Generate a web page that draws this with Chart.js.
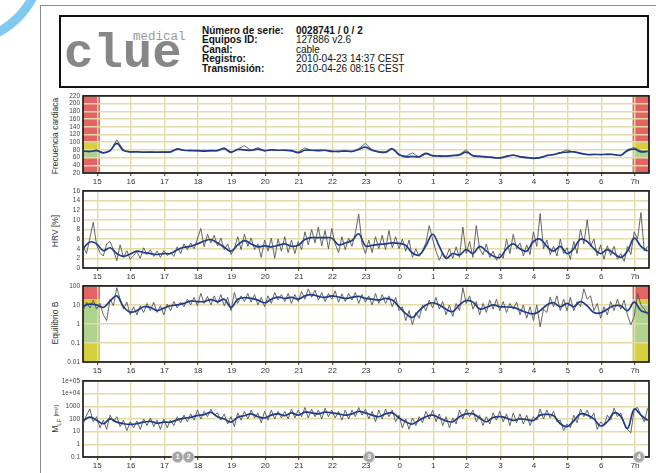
<!DOCTYPE html>
<html><head><meta charset="utf-8">
<script src="https://cdn.jsdelivr.net/npm/chart.js@4.4.0/dist/chart.umd.min.js"></script>
<style>
html,body{margin:0;padding:0;background:#fff;width:656px;height:473px;overflow:hidden;font-family:"Liberation Sans",Arial,sans-serif;}
.abs{position:absolute;}
canvas{position:absolute;left:0;}
.yt{position:absolute;width:0;height:0;}
.yt > span{position:absolute;left:0;top:0;transform:translate(-50%,-50%) rotate(-90deg);white-space:nowrap;font-size:8.5px;color:#333;}
</style></head>
<body>
<div class="abs" style="left:-131px;top:-131px;width:178px;height:178px;border-radius:50%;border:9px solid #7fcbef;box-sizing:border-box;"></div>
<div class="abs" style="left:40px;top:5px;width:630px;height:480px;border-left:1.5px solid #8a8a8a;border-top:1.5px solid #8a8a8a;"></div>
<div class="abs" style="left:59px;top:15px;width:590px;height:73px;border:2.5px solid #111;box-sizing:border-box;"></div>
<div class="abs" style="left:64px;top:29.5px;font-family:'Liberation Mono',monospace;font-weight:bold;font-size:49px;line-height:49px;color:#878787;">clue</div>
<div class="abs" style="left:133px;top:30.5px;font-family:'Liberation Mono',monospace;font-size:12.5px;line-height:12.5px;color:#9a9a9a;">medical</div>
<div class="abs" style="left:202px;top:25.5px;font-size:10px;line-height:9.6px;font-weight:bold;color:#111;">Número de serie:<br>Equipos ID:<br>Canal:<br>Registro:<br>Transmisión:</div>
<div class="abs" style="left:296px;top:25.5px;font-size:10px;line-height:9.6px;color:#111;"><b>0028741 / 0 / 2</b><br>127886 v2.6<br>cable<br>2010-04-23 14:37 CEST<br>2010-04-26 08:15 CEST</div>

<div class="yt" style="left:55px;top:136px;"><span>Frecuencia cardiaca</span></div>
<div class="yt" style="left:55px;top:231px;"><span>HRV [%]</span></div>
<div class="yt" style="left:55px;top:323px;"><span>Equilibrio B</span></div>
<div class="yt" style="left:56px;top:419px;"><span>M<sub style="font-size:6px;">LF</sub> <span style="font-size:5px;">[ms²]</span></span></div>

<canvas id="c1" width="656" height="102" style="top:89px"></canvas>
<canvas id="c2" width="656" height="102" style="top:184px"></canvas>
<canvas id="c3" width="656" height="101" style="top:279px"></canvas>
<canvas id="c4" width="656" height="101" style="top:374px"></canvas>

<script>
// ---------- data ----------
const START = 14.58;          // first sample (hours, continuous from day 1)
const GRAY_STEP = 0.1;        // raw series sampling (h)
const BLUE_STEP = 0.2;        // smoothed series sampling (h)
const X_MIN = 14.575, X_MAX = 31.42;
const HOUR_TICKS = [15,16,17,18,19,20,21,22,23,24,25,26,27,28,29,30,31];
const HOUR_LABELS = ['15','16','17','18','19','20','21','22','23','0','1','2','3','4','5','6','7h'];
const ZONES = [[14.575,15.08],[30.93,31.42]];

// Frecuencia cardiaca
const HR_TICKS = [20,40,60,80,100,120,140,160,180,200,220];
const HR_LABELS = ['20','40','60','80','100','120','140','160','180','200','220'];
const HR_BAND_LIMITS = [20,60,80,100,220];
const HR_BAND_KINDS = ['red','green','yellow','red'];
const HR_RAW = [77,75,80,73,76,106,80,74,76,73,
75,73,75,74,84,78,79,77,79,77,
79,86,72,82,91,78,86,77,81,78,
80,77,74,85,78,80,78,77,75,78,
75,83,97,80,74,75,82,66,64,72,
61,70,64,65,63,66,68,80,64,64,
61,61,58,64,67,63,61,59,59,66,
67,73,80,74,72,67,69,67,70,67,
65,81,86,77,76];
const HR_SMOOTH = [77,76,78,72,78,97,78,75,75,74,
74,74,74,75,82,79,78,78,77,78,
78,83,74,81,80,79,82,78,80,79,
79,78,73,79,79,78,79,76,76,77,
76,81,87,79,75,74,83,68,62,63,
62,71,65,64,64,65,67,74,65,63,
62,60,59,63,66,62,60,58,60,65,
68,72,74,75,71,68,68,68,68,68,
66,78,82,75,76];

// HRV [%]
const HRV_TICKS = [0,2,4,6,8,10,12,14,16];
const HRV_LABELS = ['0','2','4','6','8','10','12','14','16'];
const HRV_RAW = [4.5,3.0,6.2,9.5,4.8,3.2,2.5,5.0,5.5,3.8,
1.5,4.8,2.2,3.6,1.8,2.6,3.4,2.0,4.2,2.8,
3.8,2.4,3.5,2.2,3.6,2.6,3.2,2.4,4.4,3.0,
5.0,3.8,5.2,4.0,6.0,8.2,4.4,7.0,5.2,6.8,
4.6,6.2,3.8,5.0,2.8,4.0,6.5,3.8,7.0,4.5,
6.2,3.8,5.0,2.2,5.8,3.5,6.2,2.0,6.0,3.5,
6.5,3.2,5.8,3.0,5.5,3.8,7.5,4.8,8.0,5.2,
8.5,4.6,7.8,4.0,8.2,5.0,3.2,6.5,3.8,6.2,
4.5,7.2,11.2,5.0,3.0,5.8,3.2,6.5,4.0,6.8,
3.8,7.8,4.2,6.5,4.0,6.0,3.5,5.8,2.2,4.0,
2.4,3.6,5.2,8.8,6.0,3.5,1.6,3.2,2.2,4.0,
2.0,4.4,2.2,8.5,3.0,5.5,2.2,8.8,4.0,2.8,
5.0,2.2,3.5,1.6,3.0,2.0,6.0,3.0,7.0,4.0,
5.2,2.5,4.8,2.8,7.5,4.5,11.3,4.0,5.8,2.8,
4.5,2.5,6.0,3.0,4.2,1.8,5.5,3.0,8.0,5.0,
10.0,4.5,6.0,2.5,4.8,1.8,4.6,2.6,4.5,1.8,
3.0,1.4,4.5,2.8,7.5,6.0,11.5,3.5,4.5];
const HRV_SMOOTH = [4.0,5.4,5.0,3.6,4.2,3.0,2.4,2.9,3.5,3.2,
3.0,2.8,3.0,3.0,3.8,4.3,4.5,5.0,5.6,5.9,
5.2,4.3,3.5,4.8,5.7,5.0,4.4,4.6,4.4,4.7,
5.0,4.5,4.7,5.9,6.3,6.3,6.3,6.2,4.8,5.2,
5.7,7.1,4.6,4.7,4.9,5.0,5.2,5.1,4.7,3.1,
2.7,4.6,7.0,4.5,2.0,3.0,2.7,3.8,3.0,4.5,
3.5,2.5,2.2,4.0,5.0,4.0,3.5,5.5,6.0,4.5,
3.5,4.5,3.0,4.0,6.0,5.5,4.0,3.0,3.8,3.0,
2.2,3.5,6.2,4.5,3.5];

// Equilibrio B
const EB_TICKS = [0.01,0.1,1,10,100];
const EB_LABELS = ['0.01','0.1','1','10','100'];
const EB_BAND_LIMITS = [0.01,0.1,10,20,100];
const EB_BAND_KINDS = ['yellow','green','yellow','red'];
const EB_RAW = [5,14,7,18,6,12,3,1.5,20,9,
80,20,6,14,3,8,3,9,4,12,
5,14,4,9,3,11,5,15,7,14,
8,20,10,25,9,40,12,28,10,30,
12,35,9,25,5,45,12,30,15,40,
14,35,10,25,8,30,12,45,18,35,
15,40,12,35,15,50,20,70,25,60,
18,45,15,40,20,55,14,38,15,40,
18,45,12,35,14,30,10,40,12,35,
12,30,8,25,5,8,1.5,5,0.9,4,
2,10,5,18,7,25,6,15,3,10,
2.5,12,5,80,12,30,6,15,3,12,
4,18,6,20,5,15,4,12,6,14,
3,10,2,8,1.5,10,0.7,6,4,25,
8,30,5,20,5,25,5,15,8,70,
20,30,5,12,2,8,3,15,5,20,
6,18,3,0.9,2.5,40,10,6,3];
const EB_SMOOTH = [9,11,10,7.4,16,30,8,4.2,5,8,
7.4,5,6.8,9,10,12,16,15,15,19,
15,20,7.4,20,24,22,18,13,20,26,
22,25,20,30,35,28,25,30,26,22,
25,28,22,20,18,22,18,8,3.5,2.2,
5,10,13,10,6,4.5,10,17,14,6.2,
7.4,10,8,7.8,7.4,5.5,4,3.4,5,10,
13,8,12,8,15,9,4,3.8,6,9,
9,5,14,5,3.8];

// M_LF
const MLF_TICKS = [0.1,1,10,100,1000,1e4,1e5];
const MLF_LABELS = ['0.1','1','10','100','1000','1e+04','1e+05'];
const MLF_RAW = [40,200,620,60,150,20,80,15,200,60,
150,25,80,12,60,20,70,15,100,30,
120,25,80,15,100,20,80,30,150,50,
200,60,250,80,500,100,400,150,600,200,
300,80,250,40,150,25,300,80,400,100,
500,120,300,50,400,80,500,100,400,120,
400,100,600,120,500,150,800,120,600,150,
500,100,700,150,500,120,400,80,500,100,
500,150,800,200,600,100,400,60,500,100,
600,150,500,60,200,20,100,15,120,30,
150,50,400,100,500,60,250,30,150,20,
120,40,500,100,600,150,500,60,200,30,
150,40,300,80,400,60,250,30,300,50,
250,40,200,30,150,80,600,100,500,120,
400,60,80,12,40,20,200,50,600,150,
500,100,300,15,60,30,200,80,700,150,
300,40,15,8,600,800,200,60,700];
const MLF_SMOOTH = [76,138,80,42,100,56,42,37,42,56,
65,46,56,56,85,115,135,185,220,330,
150,100,56,138,180,250,150,120,200,250,
180,300,200,350,300,250,350,300,250,200,
250,400,300,200,150,250,300,120,60,40,
80,150,200,120,70,60,150,250,250,120,
60,130,150,120,76,100,90,76,200,230,
180,42,25,70,250,200,100,28,60,300,
160,18,600,200,76];
const MARKER_TIMES = [17.39,17.72,23.09,31.12];
const MARKER_LABELS = ['1','2','3','4'];

// ---------- drawing ----------
const FONT = "'Liberation Sans', Arial, sans-serif";
Chart.defaults.font.family = FONT;
const COL = {red:'#e46464', yellow:'#d6cf3e', green:'#afd38e'};
const GRID = '#e3dcaa';

function series(vals, step){ return vals.map((v,i)=>({x: +(START + i*step).toFixed(3), y: v})); }

function bandsPlugin(limits, kinds){
  return {id:'bands', beforeDraw(chart){
    if(!limits) return;
    const ctx = chart.ctx, a = chart.chartArea, xs = chart.scales.x, ys = chart.scales.y;
    ctx.save();
    for(const z of ZONES){
      const x0 = Math.max(a.left, xs.getPixelForValue(z[0]));
      const x1 = Math.min(a.right, xs.getPixelForValue(z[1]));
      for(let k=0;k<kinds.length;k++){
        const yT = ys.getPixelForValue(limits[k+1]), yB = ys.getPixelForValue(limits[k]);
        ctx.fillStyle = COL[kinds[k]];
        ctx.fillRect(x0, yT, x1-x0, yB-yT);
      }
    }
    ctx.restore();
  }};
}
const framePlugin = {id:'frame', beforeDatasetsDraw(chart){
  const ctx = chart.ctx, a = chart.chartArea;
  ctx.save(); ctx.strokeStyle = '#111'; ctx.lineWidth = 1.6;
  ctx.strokeRect(a.left, a.top, a.right-a.left, a.bottom-a.top); ctx.restore();
}};
const markerTextPlugin = {id:'markerText', afterDatasetsDraw(chart){
  const meta = chart.getDatasetMeta(2); if(!meta || !meta.data) return;
  const ctx = chart.ctx; ctx.save(); ctx.fillStyle = '#fff';
  ctx.font = 'bold 7px ' + FONT; ctx.textAlign = 'center'; ctx.textBaseline = 'middle';
  meta.data.forEach((p,i)=>ctx.fillText(MARKER_LABELS[i], p.x, p.y+0.5));
  ctx.restore();
}};

function makeChart(id, cfg){
  const datasets = [
    {data: series(cfg.raw, cfg.rawStep), borderColor:'#555', borderWidth:0.9, pointRadius:0, tension:0, order:2},
    {data: series(cfg.smooth, BLUE_STEP), borderColor:'#1e3c8c', borderWidth:1.7, pointRadius:0, tension:0.4, order:1}
  ];
  if(cfg.markers){
    datasets.push({data: MARKER_TIMES.map(t=>({x:t, y:cfg.min})), showLine:false, pointRadius:5.5,
      pointBackgroundColor:'#a6a6a6', pointBorderColor:'#cfcfcf', pointBorderWidth:1, clip:false, order:0});
  }
  const plugins = [bandsPlugin(cfg.bandLimits, cfg.bandKinds), framePlugin];
  if(cfg.markers) plugins.push(markerTextPlugin);
  return new Chart(document.getElementById(id), {
    type:'line',
    data:{datasets},
    options:{
      responsive:false, animation:false,
      layout:{padding:{left:46, right:7, top:6, bottom:0}},
      plugins:{legend:{display:false}, tooltip:{enabled:false}},
      scales:{
        x:{type:'linear', min:X_MIN, max:X_MAX,
          afterBuildTicks:s=>{ s.ticks = HOUR_TICKS.map(v=>({value:v})); },
          afterFit:s=>{ s.height = 18; },
          grid:{color:GRID, lineWidth:1.4, drawTicks:true, tickLength:3, tickColor:'#333', tickWidth:1},
          border:{display:false},
          ticks:{callback:(v,i)=>HOUR_LABELS[i], font:{size:8}, color:'#333', padding:1, maxRotation:0, autoSkip:false}},
        y:{type:cfg.type, min:cfg.min, max:cfg.max,
          afterBuildTicks:s=>{ s.ticks = cfg.ticks.map(v=>({value:v})); },
          afterFit:s=>{ s.width = 37; },
          grid:{color:GRID, lineWidth:1.4, drawTicks:false},
          border:{display:false},
          ticks:{callback:(v,i)=>cfg.labels[i], font:{size:6.5}, color:'#444', padding:3, autoSkip:false}}
      }
    },
    plugins
  });
}

makeChart('c1', {type:'linear', min:20, max:220, ticks:HR_TICKS, labels:HR_LABELS, raw:HR_RAW, rawStep:BLUE_STEP, smooth:HR_SMOOTH, bandLimits:HR_BAND_LIMITS, bandKinds:HR_BAND_KINDS});
makeChart('c2', {type:'linear', min:0, max:16, ticks:HRV_TICKS, labels:HRV_LABELS, raw:HRV_RAW, rawStep:GRAY_STEP, smooth:HRV_SMOOTH});
makeChart('c3', {type:'logarithmic', min:0.01, max:100, ticks:EB_TICKS, labels:EB_LABELS, raw:EB_RAW, rawStep:GRAY_STEP, smooth:EB_SMOOTH, bandLimits:EB_BAND_LIMITS, bandKinds:EB_BAND_KINDS});
makeChart('c4', {type:'logarithmic', min:0.1, max:1e5, ticks:MLF_TICKS, labels:MLF_LABELS, raw:MLF_RAW, rawStep:GRAY_STEP, smooth:MLF_SMOOTH, markers:true});
</script>
</body></html>
